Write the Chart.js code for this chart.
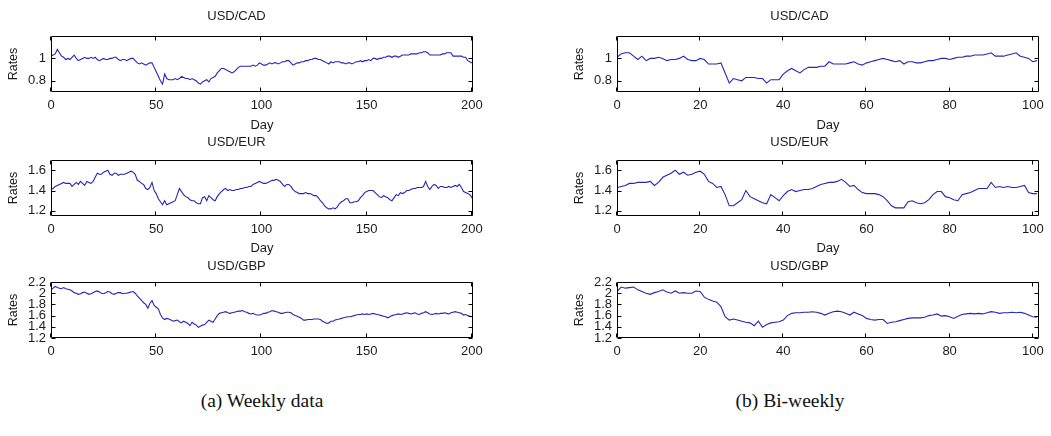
<!DOCTYPE html>
<html>
<head>
<meta charset="utf-8">
<script src="https://cdn.jsdelivr.net/npm/chart.js@4.4.1/dist/chart.umd.min.js"></script>
<style>
  html, body { margin: 0; padding: 0; background: #fff; overflow: hidden; }
  #page { position: relative; width: 1051px; height: 436px; overflow: hidden; }
  canvas { position: absolute; }
  .caption {
    position: absolute; top: 390px; width: 300px; text-align: center;
    font-family: "Liberation Serif", "DejaVu Serif", serif; font-size: 19.5px; color: #111;
  }
</style>
</head>
<body>
<div id="page">
  <canvas id="wCad" width="524" height="133" style="left:0;top:0"></canvas>
  <canvas id="wEur" width="524" height="123" style="left:0;top:133px"></canvas>
  <canvas id="wGbp" width="524" height="108" style="left:0;top:255px"></canvas>
  <canvas id="bCad" width="536" height="133" style="left:560px;top:0"></canvas>
  <canvas id="bEur" width="536" height="123" style="left:560px;top:133px"></canvas>
  <canvas id="bGbp" width="536" height="108" style="left:560px;top:255px"></canvas>
  <div class="caption" style="left:112px">(a) Weekly data</div>
  <div class="caption" style="left:640px">(b) Bi-weekly</div>
</div>
<script>
// weekly rates, one value per week (day 0..200)
const weeklyCad = [
  1.02, 1.03, 1.04, 1.08, 1.05, 1.02, 1.01, 0.99, 1.00, 0.99, 1.01,
  1.03, 1.00, 0.98, 0.99, 1.00, 1.01, 1.00, 1.00, 1.01, 1.00,
  1.01, 0.99, 0.98, 0.99, 1.00, 0.99, 0.99, 1.00, 1.00, 1.01,
  1.01, 0.99, 0.98, 0.99, 0.99, 0.98, 0.99, 1.00, 1.00, 0.98,
  0.96, 0.95, 0.96, 0.95, 0.94, 0.95, 0.96, 0.96, 0.92, 0.88,
  0.84, 0.80, 0.77, 0.86, 0.82, 0.81, 0.81, 0.81, 0.82, 0.81,
  0.82, 0.84, 0.83, 0.82, 0.82, 0.81, 0.82, 0.81, 0.80, 0.78,
  0.77, 0.79, 0.80, 0.81, 0.79, 0.82, 0.83, 0.84, 0.87, 0.89,
  0.91, 0.91, 0.90, 0.89, 0.88, 0.87, 0.88, 0.90, 0.92, 0.93,
  0.93, 0.93, 0.93, 0.93, 0.93, 0.94, 0.93, 0.94, 0.96, 0.95,
  0.94, 0.94, 0.95, 0.96, 0.95, 0.96, 0.96, 0.95, 0.96, 0.97,
  0.97, 0.98, 0.98, 0.96, 0.94, 0.95, 0.96, 0.96, 0.97, 0.97,
  0.98, 0.98, 0.99, 0.99, 1.00, 1.00, 0.99, 0.99, 0.98, 0.97,
  0.96, 0.95, 0.97, 0.96, 0.97, 0.97, 0.97, 0.96, 0.96, 0.95,
  0.96, 0.96, 0.95, 0.96, 0.97, 0.97, 0.98, 0.97, 0.98, 0.98,
  0.99, 0.98, 1.00, 1.00, 0.99, 1.00, 1.00, 1.01, 1.01, 1.02,
  1.02, 1.01, 1.02, 1.02, 1.01, 1.02, 1.03, 1.03, 1.03, 1.03,
  1.04, 1.04, 1.04, 1.04, 1.05, 1.05, 1.06, 1.06, 1.05, 1.03,
  1.03, 1.03, 1.03, 1.03, 1.03, 1.04, 1.04, 1.05, 1.05, 1.05,
  1.02, 1.02, 1.02, 1.02, 1.02, 1.01, 1.01, 0.98, 0.97, 0.96, 0.97
];
const weeklyEur = [
  1.41, 1.42, 1.44, 1.45, 1.46, 1.47, 1.48, 1.47, 1.47, 1.47, 1.44,
  1.46, 1.48, 1.46, 1.49, 1.47, 1.45, 1.49, 1.48, 1.47, 1.49,
  1.53, 1.57, 1.56, 1.56, 1.58, 1.59, 1.60, 1.56, 1.55, 1.57,
  1.57, 1.55, 1.56, 1.56, 1.56, 1.57, 1.58, 1.59, 1.58, 1.56,
  1.50, 1.49, 1.47, 1.46, 1.42, 1.41, 1.43, 1.48, 1.40, 1.37,
  1.32, 1.29, 1.26, 1.30, 1.26, 1.27, 1.28, 1.29, 1.30, 1.36,
  1.42, 1.39, 1.36, 1.34, 1.33, 1.31, 1.30, 1.30, 1.28, 1.27,
  1.27, 1.33, 1.34, 1.30, 1.35, 1.33, 1.31, 1.30, 1.34, 1.37,
  1.39, 1.41, 1.42, 1.40, 1.41, 1.40, 1.40, 1.41, 1.41, 1.42,
  1.42, 1.43, 1.43, 1.44, 1.44, 1.46, 1.47, 1.48, 1.49, 1.48,
  1.47, 1.47, 1.48, 1.49, 1.50, 1.50, 1.51, 1.50, 1.49, 1.46,
  1.44, 1.46, 1.46, 1.44, 1.41, 1.39, 1.38, 1.37, 1.37, 1.37,
  1.38, 1.37, 1.37, 1.36, 1.35, 1.35, 1.33, 1.30, 1.28, 1.25,
  1.23, 1.22, 1.22, 1.23, 1.22, 1.24, 1.27, 1.29, 1.30, 1.32,
  1.32, 1.28, 1.28, 1.29, 1.29, 1.30, 1.33, 1.35, 1.38, 1.39,
  1.40, 1.40, 1.40, 1.38, 1.36, 1.34, 1.33, 1.35, 1.34, 1.33,
  1.31, 1.30, 1.33, 1.36, 1.35, 1.38, 1.37, 1.38, 1.40, 1.40,
  1.41, 1.42, 1.42, 1.43, 1.43, 1.43, 1.44, 1.49, 1.44, 1.41,
  1.44, 1.46, 1.45, 1.42, 1.44, 1.44, 1.43, 1.43, 1.44, 1.43,
  1.44, 1.45, 1.44, 1.46, 1.43, 1.39, 1.38, 1.37, 1.36, 1.33, 1.35
];
const weeklyGbp = [
  2.06, 2.09, 2.12, 2.10, 2.09, 2.08, 2.10, 2.08, 2.07, 2.06, 2.04,
  2.01, 2.00, 1.98, 1.99, 2.01, 2.02, 2.00, 1.98, 1.99, 2.01,
  2.03, 2.04, 2.02, 2.00, 1.99, 2.01, 2.03, 2.02, 1.99, 1.98,
  2.00, 2.01, 2.01, 1.99, 2.00, 2.00, 2.01, 2.02, 2.03, 2.00,
  1.95, 1.91, 1.87, 1.83, 1.80, 1.73, 1.82, 1.87, 1.78, 1.75,
  1.72, 1.62, 1.56, 1.53, 1.55, 1.54, 1.52, 1.50, 1.51, 1.52,
  1.49, 1.47, 1.50, 1.48, 1.46, 1.42, 1.48, 1.45, 1.43, 1.39,
  1.41, 1.43, 1.44, 1.48, 1.52, 1.50, 1.48, 1.54, 1.60, 1.64,
  1.65, 1.66, 1.67, 1.65, 1.64, 1.65, 1.66, 1.67, 1.68, 1.68,
  1.69, 1.67, 1.66, 1.64, 1.63, 1.64, 1.62, 1.61, 1.61, 1.62,
  1.64, 1.64, 1.66, 1.67, 1.69, 1.68, 1.67, 1.66, 1.64, 1.64,
  1.65, 1.66, 1.66, 1.65, 1.62, 1.60, 1.59, 1.57, 1.55, 1.52,
  1.52, 1.53, 1.53, 1.53, 1.54, 1.54, 1.54, 1.53, 1.50, 1.48,
  1.46, 1.47, 1.50, 1.50, 1.52, 1.53, 1.54, 1.55, 1.56, 1.57,
  1.58, 1.58, 1.59, 1.60, 1.61, 1.62, 1.62, 1.63, 1.62, 1.63,
  1.62, 1.63, 1.64, 1.63, 1.62, 1.61, 1.60, 1.59, 1.58, 1.56,
  1.58, 1.60, 1.61, 1.62, 1.63, 1.62, 1.63, 1.64, 1.65, 1.64,
  1.63, 1.64, 1.65, 1.63, 1.62, 1.64, 1.65, 1.67, 1.65, 1.63,
  1.62, 1.63, 1.64, 1.63, 1.64, 1.64, 1.65, 1.64, 1.63, 1.65,
  1.66, 1.67, 1.66, 1.65, 1.64, 1.61, 1.62, 1.60, 1.59, 1.58, 1.58
];

// bi-weekly rates (day 0..101)
const biweeklyCad = [
  1.01, 1.04, 1.05, 1.05, 1.02, 0.99, 1.02, 0.98, 1.00, 1.00,
  1.01, 1.00, 0.98, 0.99, 0.99, 1.00, 1.02, 0.99, 0.98, 0.98,
  1.00, 0.99, 0.95, 0.95, 0.95, 0.96, 0.87, 0.78, 0.82, 0.81,
  0.80, 0.83, 0.83, 0.83, 0.82, 0.82, 0.78, 0.81, 0.81, 0.81,
  0.86, 0.89, 0.91, 0.89, 0.87, 0.90, 0.92, 0.92, 0.92, 0.93,
  0.93, 0.97, 0.95, 0.95, 0.95, 0.95, 0.96, 0.97, 0.95, 0.94,
  0.96, 0.97, 0.98, 0.99, 1.00, 0.99, 0.98, 0.97, 0.98, 0.95,
  0.97, 0.97, 0.96, 0.96, 0.97, 0.98, 0.98, 0.99, 1.00, 1.00,
  0.99, 1.00, 1.01, 1.01, 1.02, 1.02, 1.03, 1.03, 1.03, 1.04,
  1.05, 1.02, 1.02, 1.02, 1.03, 1.04, 1.05, 1.02, 1.01, 1.00,
  0.97, 0.98
];
const biweeklyEur = [
  1.43, 1.44, 1.45, 1.47, 1.47, 1.48, 1.48, 1.48, 1.49, 1.45,
  1.48, 1.53, 1.55, 1.57, 1.60, 1.56, 1.58, 1.55, 1.56, 1.58,
  1.59, 1.56, 1.49, 1.47, 1.43, 1.44, 1.36, 1.25, 1.25, 1.28,
  1.31, 1.40, 1.34, 1.32, 1.30, 1.28, 1.27, 1.36, 1.33, 1.30,
  1.35, 1.39, 1.41, 1.39, 1.40, 1.41, 1.41, 1.42, 1.44, 1.46,
  1.47, 1.48, 1.48, 1.49, 1.51, 1.48, 1.44, 1.45, 1.41, 1.38,
  1.37, 1.37, 1.37, 1.36, 1.34, 1.30, 1.25, 1.23, 1.23, 1.23,
  1.29, 1.30, 1.28, 1.27, 1.28, 1.31, 1.36, 1.39, 1.39, 1.34,
  1.33, 1.31, 1.30, 1.36, 1.37, 1.38, 1.40, 1.42, 1.42, 1.42,
  1.48, 1.43, 1.44, 1.43, 1.44, 1.43, 1.43, 1.44, 1.45, 1.38,
  1.37, 1.37
];
const biweeklyGbp = [
  2.03, 2.11, 2.09, 2.10, 2.11, 2.06, 2.03, 2.00, 1.98, 2.01,
  2.03, 2.06, 2.02, 2.00, 2.04, 2.00, 2.01, 2.00, 2.00, 2.04,
  2.03, 1.93, 1.89, 1.86, 1.84, 1.76, 1.58, 1.52, 1.54, 1.52,
  1.50, 1.48, 1.47, 1.42, 1.50, 1.39, 1.44, 1.47, 1.48, 1.49,
  1.52, 1.60, 1.64, 1.65, 1.65, 1.66, 1.66, 1.67, 1.66, 1.64,
  1.61, 1.64, 1.67, 1.68, 1.67, 1.64, 1.61, 1.66, 1.63, 1.60,
  1.55, 1.53, 1.52, 1.53, 1.53, 1.46, 1.48, 1.49, 1.51, 1.53,
  1.55, 1.56, 1.56, 1.56, 1.57, 1.60, 1.61, 1.63, 1.59, 1.60,
  1.58, 1.55, 1.59, 1.62, 1.63, 1.64, 1.63, 1.64, 1.63, 1.65,
  1.67, 1.66, 1.64, 1.65, 1.65, 1.66, 1.65, 1.66, 1.64, 1.61,
  1.58, 1.57
];

// axis ticks
const weeklyDayTicks = [0, 50, 100, 150, 200];
const biweeklyDayTicks = [0, 20, 40, 60, 80, 100];
const cadTicks = [0.8, 1];
const eurTicks = [1.2, 1.4, 1.6];
const gbpTicks = [1.2, 1.4, 1.6, 1.8, 2, 2.2];

const FONT = '"Liberation Sans", Arial, Helvetica, sans-serif';
const TEXT = '#1c1c1c';

// closed box with inward tick marks on all four sides
const boxAxes = {
  id: 'boxAxes',
  afterDraw(chart) {
    const { ctx, chartArea: a, scales: { x, y } } = chart;
    const L = Math.round(a.left) + 0.5, R = Math.round(a.right) - 0.5;
    const T = Math.round(a.top) + 0.5, B = Math.round(a.bottom) - 0.5;
    ctx.save();
    ctx.strokeStyle = '#000';
    ctx.lineWidth = 1;
    ctx.beginPath();
    x.ticks.forEach(t => {
      const px = Math.round(x.getPixelForValue(t.value)) - 0.5;
      ctx.moveTo(px, B); ctx.lineTo(px, B - 4);
      ctx.moveTo(px, T); ctx.lineTo(px, T + 4);
    });
    y.ticks.forEach(t => {
      const py = Math.round(y.getPixelForValue(t.value)) + 0.5;
      ctx.moveTo(L, py); ctx.lineTo(L + 4, py);
      ctx.moveTo(R, py); ctx.lineTo(R - 4, py);
    });
    ctx.rect(L, T, R - L, B - T);
    ctx.stroke();
    ctx.restore();
  }
};

function panel(id, values, opts) {
  const points = values.map((v, i) => ({ x: i, y: v }));
  return new Chart(document.getElementById(id), {
    type: 'line',
    data: {
      datasets: [{
        data: points,
        borderColor: '#2626b4',
        borderWidth: 1.1,
        pointRadius: 0,
        tension: 0
      }]
    },
    options: {
      responsive: false,
      animation: false,
      devicePixelRatio: 1,
      layout: { padding: { left: 0, right: opts.padRight, top: 0, bottom: 0 } },
      plugins: {
        legend: { display: false },
        tooltip: { enabled: false },
        title: {
          display: true,
          text: opts.title,
          color: TEXT,
          font: { family: FONT, size: 13, weight: 'normal', lineHeight: 1.2 },
          padding: { top: opts.titleTop, bottom: opts.titleBottom }
        }
      },
      scales: {
        x: {
          type: 'linear',
          min: 0,
          max: opts.xMax,
          grid: { display: false, drawTicks: false },
          border: { display: false },
          afterBuildTicks: s => { s.ticks = opts.xTicks.map(v => ({ value: v })); },
          afterFit: s => { s.height = opts.xHeight; },
          ticks: {
            padding: 6,
            maxRotation: 0,
            autoSkip: false,
            color: TEXT,
            font: { family: FONT, size: 13 },
            callback: v => String(v)
          },
          title: {
            display: opts.showDay,
            text: 'Day',
            color: TEXT,
            font: { family: FONT, size: 13, lineHeight: 1.2 },
            padding: { top: 0, bottom: 0 }
          }
        },
        y: {
          min: opts.yMin,
          max: opts.yMax,
          grid: { display: false, drawTicks: false },
          border: { display: false },
          afterBuildTicks: s => { s.ticks = opts.yTicks.map(v => ({ value: v })); },
          afterFit: s => { s.width = opts.yWidth; },
          ticks: {
            padding: 5,
            autoSkip: false,
            color: TEXT,
            font: { family: FONT, size: 13 },
            callback: v => String(+v.toFixed(2))
          },
          title: {
            display: true,
            text: 'Rates',
            color: TEXT,
            font: { family: FONT, size: 12.5, lineHeight: 1.2 },
            padding: { top: opts.ratesPad, bottom: 0 }
          }
        }
      }
    },
    plugins: [boxAxes]
  });
}

const weekly = { xMax: 200.5, xTicks: weeklyDayTicks, padRight: 51, yWidth: 51, ratesPad: 6 };
const biweekly = { xMax: 101.5, xTicks: biweeklyDayTicks, padRight: 57, yWidth: 57, ratesPad: 12 };

const rowCad = { title: 'USD/CAD', yMin: 0.7, yMax: 1.2, yTicks: cadTicks, titleTop: 9, titleBottom: 11.4, xHeight: 41, showDay: true };
const rowEur = { title: 'USD/EUR', yMin: 1.15, yMax: 1.7, yTicks: eurTicks, titleTop: 2, titleBottom: 9.4, xHeight: 40, showDay: true };
const rowGbp = { title: 'USD/GBP', yMin: 1.2, yMax: 2.2, yTicks: gbpTicks, titleTop: 3.9, titleBottom: 7.5, xHeight: 25, showDay: false };

panel('wCad', weeklyCad, { ...weekly, ...rowCad });
panel('wEur', weeklyEur, { ...weekly, ...rowEur });
panel('wGbp', weeklyGbp, { ...weekly, ...rowGbp });
panel('bCad', biweeklyCad, { ...biweekly, ...rowCad });
panel('bEur', biweeklyEur, { ...biweekly, ...rowEur });
panel('bGbp', biweeklyGbp, { ...biweekly, ...rowGbp });
</script>
</body>
</html>
